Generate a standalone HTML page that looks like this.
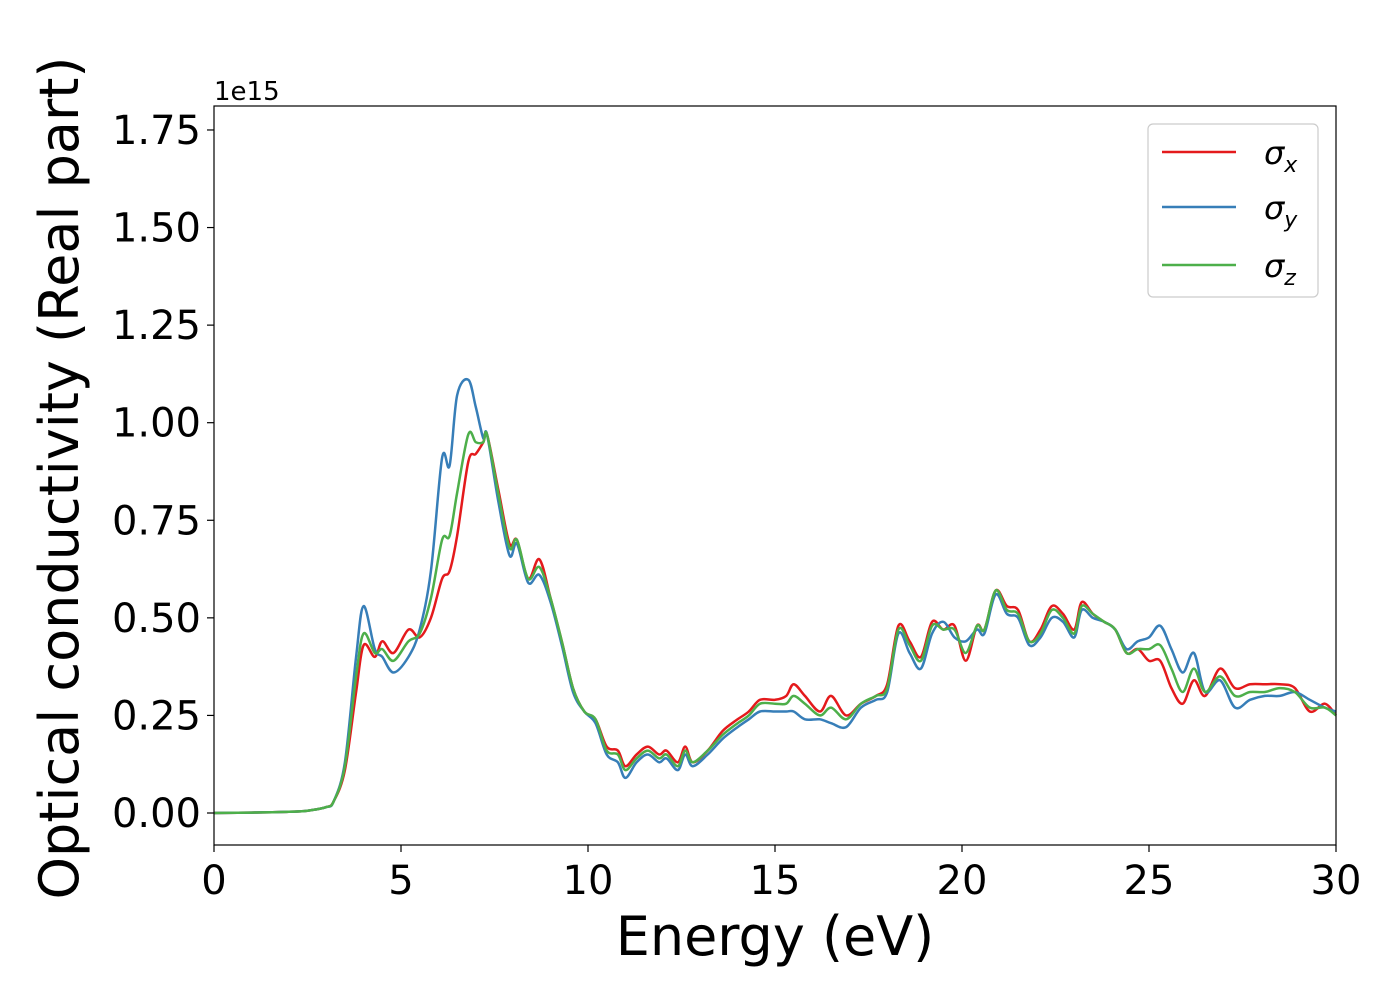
<!DOCTYPE html>
<html><head><meta charset="utf-8"><style>
html,body{margin:0;padding:0;background:#fff;}
svg{display:block;font-family:"DejaVu Sans","Liberation Sans",sans-serif;}
</style></head><body>
<svg id="chart" width="1400" height="1000">
<rect x="0" y="0" width="1400" height="1000" fill="#fff"/>
<g id="series"></g>
<rect x="214" y="106" width="1122" height="739" fill="none" stroke="#000" stroke-width="1.2"/>
<g id="xticks"></g>
<g id="yticks"></g>
<text x="214" y="100" font-size="26">1e15</text>
<text x="775" y="955" font-size="54" text-anchor="middle">Energy (eV)</text>
<text transform="translate(78,478) rotate(-90)" font-size="54" text-anchor="middle">Optical conductivity (Real part)</text>
<g>
<rect x="1148" y="124" width="170" height="173" rx="5" fill="#fff" stroke="#ccc" stroke-width="1.2"/>
<g><line x1="1162" y1="152" x2="1236" y2="152" stroke="#e41a1c" stroke-width="2.5"/><text x="1264" y="164" font-size="32" font-style="italic">σ<tspan font-size="22" dy="8">x</tspan></text></g>
<g><line x1="1162" y1="207" x2="1236" y2="207" stroke="#377eb8" stroke-width="2.5"/><text x="1264" y="219" font-size="32" font-style="italic">σ<tspan font-size="22" dy="8">y</tspan></text></g>
<g><line x1="1162" y1="265" x2="1236" y2="265" stroke="#4daf4a" stroke-width="2.5"/><text x="1264" y="277" font-size="32" font-style="italic">σ<tspan font-size="22" dy="8">z</tspan></text></g>
</g>
</svg>
<script>
const energy=[0,1,2,2.5,3,3.2,3.5,3.8,4.0,4.3,4.5,4.8,5.2,5.5,5.8,6.1,6.3,6.5,6.8,7.0,7.2,7.3,7.6,7.9,8.1,8.4,8.7,9.0,9.3,9.6,9.9,10.2,10.5,10.8,11.0,11.3,11.6,11.9,12.1,12.4,12.6,12.8,13.2,13.6,14.0,14.3,14.6,15.0,15.3,15.5,15.8,16.2,16.5,16.9,17.3,17.7,18.0,18.3,18.6,18.9,19.2,19.5,19.8,20.1,20.4,20.6,20.9,21.2,21.5,21.8,22.1,22.4,22.7,23.0,23.2,23.5,23.8,24.1,24.4,24.7,25.0,25.3,25.6,25.9,26.2,26.5,26.9,27.3,27.7,28.1,28.5,28.9,29.3,29.7,30];
const sigmaX=[0,0.001,0.003,0.006,0.015,0.03,0.11,0.31,0.43,0.40,0.44,0.41,0.47,0.45,0.50,0.60,0.62,0.71,0.90,0.92,0.95,0.97,0.83,0.69,0.70,0.60,0.65,0.55,0.44,0.32,0.26,0.24,0.17,0.16,0.12,0.15,0.17,0.15,0.16,0.13,0.17,0.13,0.16,0.21,0.24,0.26,0.29,0.29,0.30,0.33,0.30,0.26,0.30,0.25,0.28,0.30,0.33,0.48,0.44,0.40,0.49,0.47,0.48,0.39,0.48,0.47,0.57,0.53,0.52,0.44,0.47,0.53,0.51,0.47,0.54,0.51,0.49,0.47,0.41,0.42,0.39,0.39,0.32,0.28,0.34,0.30,0.37,0.32,0.33,0.33,0.33,0.32,0.26,0.28,0.25];
const sigmaY=[0,0.001,0.003,0.006,0.015,0.03,0.13,0.40,0.53,0.42,0.40,0.36,0.40,0.47,0.62,0.91,0.89,1.07,1.11,1.04,0.96,0.97,0.80,0.66,0.69,0.59,0.61,0.54,0.43,0.31,0.26,0.23,0.15,0.13,0.09,0.13,0.15,0.13,0.14,0.11,0.15,0.12,0.15,0.19,0.22,0.24,0.26,0.26,0.26,0.26,0.24,0.24,0.23,0.22,0.27,0.29,0.31,0.46,0.41,0.37,0.46,0.49,0.45,0.44,0.47,0.46,0.56,0.51,0.50,0.43,0.45,0.50,0.49,0.45,0.52,0.50,0.49,0.47,0.42,0.44,0.45,0.48,0.42,0.36,0.41,0.31,0.34,0.27,0.29,0.30,0.30,0.31,0.29,0.27,0.26];
const sigmaZ=[0,0.001,0.003,0.006,0.015,0.03,0.12,0.35,0.46,0.41,0.42,0.39,0.44,0.46,0.55,0.70,0.71,0.82,0.97,0.95,0.95,0.97,0.82,0.68,0.70,0.60,0.63,0.55,0.44,0.32,0.26,0.24,0.16,0.15,0.11,0.14,0.16,0.14,0.15,0.12,0.16,0.13,0.16,0.20,0.23,0.25,0.28,0.28,0.28,0.30,0.28,0.25,0.27,0.24,0.28,0.30,0.32,0.47,0.43,0.39,0.48,0.47,0.47,0.41,0.48,0.47,0.57,0.52,0.51,0.44,0.46,0.52,0.50,0.46,0.53,0.51,0.49,0.47,0.41,0.42,0.42,0.43,0.37,0.31,0.37,0.31,0.35,0.30,0.31,0.31,0.32,0.31,0.27,0.27,0.25];
const xTickLabels=["0","5","10","15","20","25","30"];
const yTickLabels=["0.00","0.25","0.50","0.75","1.00","1.25","1.50","1.75"];

const NS="http://www.w3.org/2000/svg";
const X0=214,X1=1336,XMIN=0,XMAX=30;
const Y0px=813,PXPER=390.3;
function xs(v){return X0+(v-XMIN)/(XMAX-XMIN)*(X1-X0);}
function ys(v){return Y0px-v*PXPER;}
function smoothPath(xa,ya){
  const p=xa.map((x,i)=>[xs(x),ys(ya[i])]);
  let d="M"+p[0][0].toFixed(1)+","+p[0][1].toFixed(1);
  for(let i=0;i<p.length-1;i++){
    const p0=p[Math.max(0,i-1)],p1=p[i],p2=p[i+1],p3=p[Math.min(p.length-1,i+2)];
    const c1x=p1[0]+(p2[0]-p0[0])/6,c1y=p1[1]+(p2[1]-p0[1])/6;
    const c2x=p2[0]-(p3[0]-p1[0])/6,c2y=p2[1]-(p3[1]-p1[1])/6;
    d+=" C"+c1x.toFixed(1)+","+c1y.toFixed(1)+" "+c2x.toFixed(1)+","+c2y.toFixed(1)+" "+p2[0].toFixed(1)+","+p2[1].toFixed(1);
  }
  return d;
}
const g=document.getElementById("series");
[["sigma-x-line",sigmaX,"#e41a1c"],["sigma-y-line",sigmaY,"#377eb8"],["sigma-z-line",sigmaZ,"#4daf4a"]].forEach(s=>{
  const path=document.createElementNS(NS,"path");
  path.setAttribute("d",smoothPath(energy,s[1]));
  path.setAttribute("fill","none");
  path.setAttribute("stroke",s[2]);
  path.setAttribute("stroke-width","2.5");
  
  
  g.appendChild(path);
});
const gx=document.getElementById("xticks");
xTickLabels.forEach(l=>{
  const x=xs(parseFloat(l));
  const t=document.createElementNS(NS,"line");
  t.setAttribute("x1",x);t.setAttribute("x2",x);t.setAttribute("y1",845);t.setAttribute("y2",852);
  t.setAttribute("stroke","#000");t.setAttribute("stroke-width","1.2");
  
  
  gx.appendChild(t);
  const tx=document.createElementNS(NS,"text");
  tx.setAttribute("x",x);tx.setAttribute("y",894);tx.setAttribute("font-size","40");tx.setAttribute("text-anchor","middle");
  tx.textContent=l;
  
  
  gx.appendChild(tx);
});
const gy=document.getElementById("yticks");
yTickLabels.forEach(l=>{
  const y=ys(parseFloat(l));
  const t=document.createElementNS(NS,"line");
  t.setAttribute("x1",207);t.setAttribute("x2",214);t.setAttribute("y1",y);t.setAttribute("y2",y);
  t.setAttribute("stroke","#000");t.setAttribute("stroke-width","1.2");
  
  
  gy.appendChild(t);
  const tx=document.createElementNS(NS,"text");
  tx.setAttribute("x",201);tx.setAttribute("y",y+14);tx.setAttribute("font-size","40");tx.setAttribute("text-anchor","end");
  tx.textContent=l;
  
  
  gy.appendChild(tx);
});
</script>
</body></html>
